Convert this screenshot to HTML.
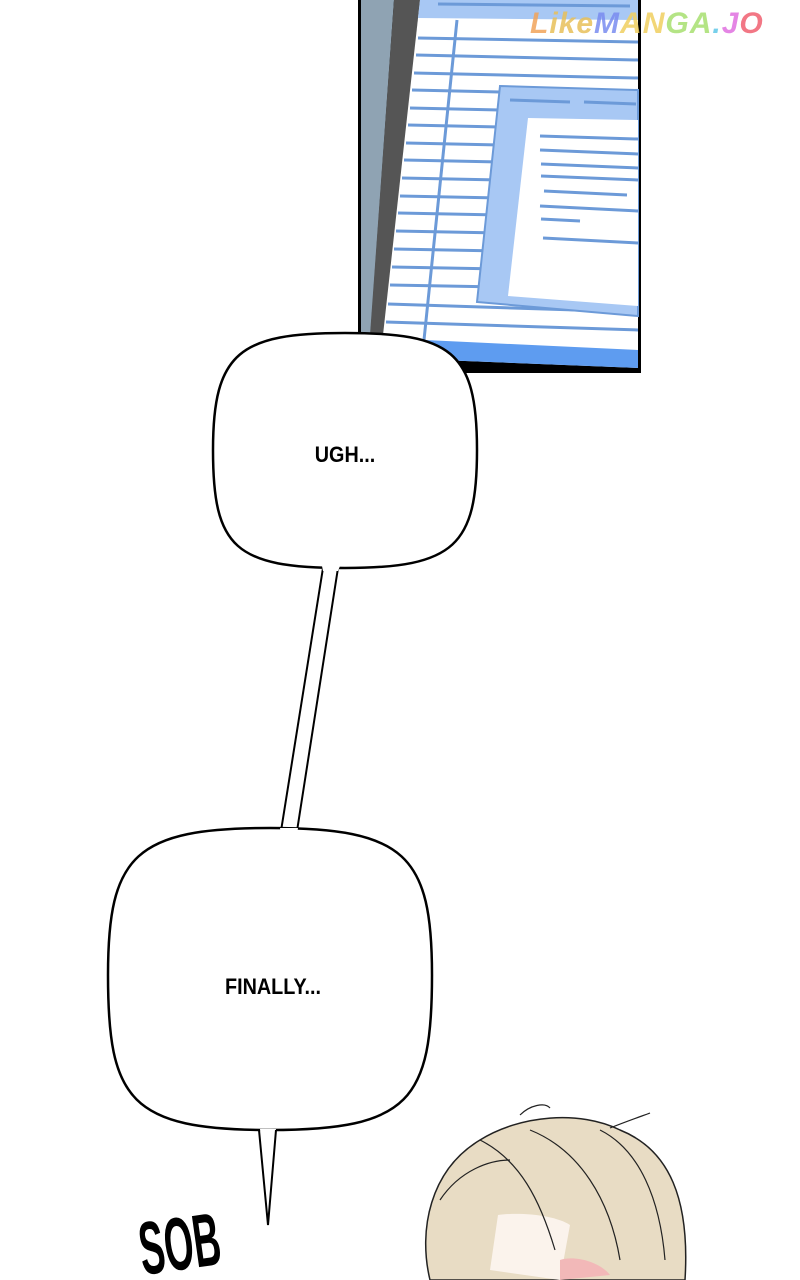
<!DOCTYPE html>
<html><head><style>
html,body{margin:0;padding:0;background:#fff;}
body{width:800px;height:1280px;overflow:hidden;position:relative;font-family:"Liberation Sans",sans-serif;}
</style></head><body>
<svg width="800" height="1280" viewBox="0 0 800 1280" xmlns="http://www.w3.org/2000/svg" style="position:absolute;left:0;top:0">
<rect x="358" y="0" width="283" height="373" fill="#000"/>
<polygon points="361,0 394,0 370,340 361,340" fill="#8fa3b3"/>
<polygon points="394,0 420,0 385,335 370,335" fill="#555"/>
<polygon points="420,0 638,0 638,368 440,360 383,335" fill="#fff"/>
<polygon points="420,0 638,0 638,20 418,18" fill="#a8c8f4"/>
<line x1="438" y1="4" x2="630" y2="6" stroke="#6c9ad8" stroke-width="3"/>
<g stroke="#6c9ad8" stroke-width="3">
<line x1="418" y1="38" x2="638" y2="42"/>
<line x1="416" y1="55" x2="638" y2="60"/>
<line x1="414" y1="73" x2="638" y2="78"/>
<line x1="412" y1="90" x2="500" y2="92"/>
<line x1="410" y1="108" x2="500" y2="110"/>
<line x1="408" y1="125" x2="500" y2="127"/>
<line x1="406" y1="143" x2="500" y2="145"/>
<line x1="404" y1="160" x2="500" y2="162"/>
<line x1="402" y1="178" x2="500" y2="180"/>
<line x1="400" y1="196" x2="500" y2="198"/>
<line x1="398" y1="213" x2="500" y2="215"/>
<line x1="396" y1="231" x2="500" y2="233"/>
<line x1="394" y1="249" x2="500" y2="251"/>
<line x1="392" y1="267" x2="500" y2="269"/>
<line x1="390" y1="285" x2="500" y2="287"/>
<line x1="388" y1="304" x2="638" y2="312"/>
<line x1="386" y1="322" x2="638" y2="330"/>
<line x1="457" y1="20" x2="424" y2="340"/>
</g>
<polygon points="500,86 638,90 638,316 477,302" fill="#a8c8f4" stroke="#6c9ad8" stroke-width="2"/>
<polygon points="528,118 638,120 638,306 508,296" fill="#fff"/>
<g stroke="#6c9ad8" stroke-width="3">
<line x1="510" y1="100" x2="570" y2="102"/><line x1="584" y1="102" x2="636" y2="104"/>
<line x1="540" y1="136" x2="638" y2="139"/>
<line x1="540" y1="150" x2="638" y2="154"/>
<line x1="541" y1="164" x2="638" y2="168"/>
<line x1="541" y1="176" x2="638" y2="180"/>
<line x1="544" y1="191" x2="627" y2="195"/>
<line x1="540" y1="206" x2="638" y2="211"/>
<line x1="541" y1="219" x2="580" y2="221"/>
<line x1="543" y1="238" x2="638" y2="243"/>
</g>
<polygon points="425,340 638,350 638,368 440,360" fill="#5e9cf0"/>
<text x="530" y="33" font-family="Liberation Sans" font-weight="bold" font-style="italic" font-size="30" fill="#f2a45a" opacity="0.85" letter-spacing="1">L<tspan fill="#e8c05a">ike</tspan><tspan fill="#7a8cf0">M</tspan><tspan fill="#f0d060">AN</tspan><tspan fill="#a8e070">GA</tspan><tspan fill="#60c8e8">.</tspan><tspan fill="#e070e0">J</tspan><tspan fill="#f06070">O</tspan></text>
<path d="M345,333 C450,333 477,350 477,450 C477,545 455,568 345,568 C235,568 213,548 213,450 C213,352 240,333 345,333 Z" fill="#fff" stroke="#000" stroke-width="2.5"/>
<polygon points="323,567 338,567 297,831 281,831" fill="#fff"/>
<line x1="323" y1="568" x2="281" y2="831" stroke="#000" stroke-width="2"/>
<line x1="338" y1="568" x2="297" y2="831" stroke="#000" stroke-width="2"/>
<path d="M270,828 C405,828 432,855 432,975 C432,1100 410,1130 270,1130 C130,1130 108,1100 108,975 C108,855 135,828 270,828 Z" fill="#fff" stroke="#000" stroke-width="2.5"/>
<polygon points="260,1129 276,1129 268,1225" fill="#fff"/>
<polyline points="259,1130 268,1225 276,1130" fill="none" stroke="#000" stroke-width="2"/>
<polygon points="322,566 340,566 338,571 323,571" fill="#fff"/>
<polygon points="280,828 298,828 297,834 281,834" fill="#fff"/>
<text x="345" y="462" text-anchor="middle" font-size="22" font-weight="bold" font-family="Liberation Sans" transform="translate(345 0) scale(0.9 1) translate(-345 0)">UGH...</text>
<text x="273" y="994" text-anchor="middle" font-size="22" font-weight="bold" font-family="Liberation Sans" transform="translate(273 0) scale(0.9 1) translate(-273 0)">FINALLY...</text>
<text font-size="50" font-weight="bold" font-family="Liberation Sans" transform="translate(143 1275) rotate(-8) scale(0.75 1.5)">SOB</text>
<path d="M430,1280 C418,1230 430,1170 480,1140 C520,1115 580,1110 620,1130 C670,1150 690,1200 685,1280 Z" fill="#e8dcc4" stroke="#222" stroke-width="1.5"/>
<path d="M490,1270 L498,1215 C520,1212 555,1215 570,1225 L560,1280 Z" fill="#fbf3ec"/>
<path d="M560,1260 C575,1255 600,1262 610,1275 L560,1280Z" fill="#f2b8b8"/>
<g stroke="#222" stroke-width="1.2" fill="none">
<path d="M480,1140 C520,1160 540,1200 555,1250"/>
<path d="M530,1130 C580,1150 610,1200 620,1260"/>
<path d="M600,1130 C640,1150 660,1200 665,1260"/>
<path d="M440,1200 C460,1170 490,1160 510,1160"/>
<path d="M520,1115 C530,1105 545,1102 550,1108"/>
<path d="M610,1128 C630,1120 645,1115 650,1113"/>
</g>
</svg>
</body></html>
